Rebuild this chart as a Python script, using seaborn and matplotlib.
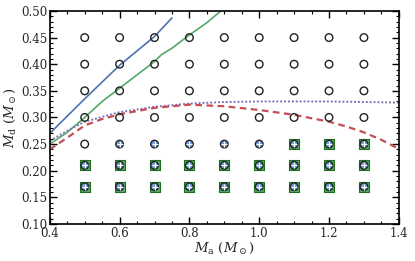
import numpy as np
import pandas as pd
import matplotlib
matplotlib.use("Agg")
import matplotlib.pyplot as plt
import seaborn as sns
from matplotlib.ticker import MultipleLocator

# Grid of simulated systems
grid_ma = [0.5, 0.6, 0.7, 0.8, 0.9, 1.0, 1.1, 1.2, 1.3]
grid_md = [0.17, 0.21, 0.25, 0.30, 0.35, 0.40, 0.45]
# blue-plus points and green-square points
plus_pts_ma = [0.6, 0.7, 0.8, 0.9, 1.0, 1.1, 1.2, 1.3] + grid_ma + grid_ma
plus_pts_md = [0.25] * 8 + [0.21] * 9 + [0.17] * 9
square_pts_ma = [1.1, 1.2, 1.3] + grid_ma + grid_ma
square_pts_md = [0.25] * 3 + [0.21] * 9 + [0.17] * 9

# Curves
blue_x = [0.40, 0.50, 0.60, 0.70, 0.75]
blue_y = [0.270, 0.335, 0.398, 0.452, 0.487]
green_x = [0.40, 0.45, 0.50, 0.55, 0.60, 0.65, 0.70, 0.72, 0.75, 0.78, 0.80, 0.85, 0.89]
green_y = [0.250, 0.272, 0.300, 0.330, 0.355, 0.380, 0.405, 0.418, 0.430, 0.445, 0.455, 0.478, 0.500]
red_x = [0.40, 0.45, 0.50, 0.55, 0.60, 0.70, 0.80, 0.90, 1.00, 1.10, 1.20, 1.25, 1.30, 1.35, 1.40]
red_y = [0.240, 0.262, 0.285, 0.297, 0.306, 0.318, 0.324, 0.321, 0.314, 0.305, 0.292, 0.283, 0.272, 0.258, 0.241]
purple_x = [0.40, 0.45, 0.50, 0.60, 0.70, 0.80, 0.90, 1.00, 1.20, 1.40]
purple_y = [0.256, 0.275, 0.292, 0.310, 0.320, 0.326, 0.329, 0.330, 0.330, 0.328]

sns.set_style("ticks")
plt.rcParams["font.family"] = ["DejaVu Serif"]
plt.rcParams["mathtext.fontset"] = "dejavuserif"

fig = plt.figure(figsize=(4.15, 2.61), dpi=100)
ax = fig.add_axes([0.12, 0.142, 0.841, 0.816])

pal = sns.color_palette("deep")
c_blue, c_green, c_red, c_purple = pal[0], pal[2], pal[3], pal[4]

sns.lineplot(x=blue_x, y=blue_y, ax=ax, color=c_blue, lw=1.2, sort=False)
sns.lineplot(x=green_x, y=green_y, ax=ax, color=c_green, lw=1.2, sort=False)
sns.lineplot(x=purple_x, y=purple_y, ax=ax, color=c_purple, lw=1.4, sort=False,
             linestyle=(0, (1, 1)))
sns.lineplot(x=red_x, y=red_y, ax=ax, color=c_red, lw=1.6, sort=False,
             linestyle=(0, (3, 2)))

gx, gy = np.meshgrid(grid_ma, grid_md)
sq = pd.DataFrame({"x": square_pts_ma, "y": square_pts_md})
sns.scatterplot(data=sq, x="x", y="y", ax=ax, marker="s", s=55,
                color=c_green, edgecolor="#1f6e1f", linewidth=0.8, zorder=3)
pl = pd.DataFrame({"x": plus_pts_ma, "y": plus_pts_md})
sns.scatterplot(data=pl, x="x", y="y", ax=ax, marker="o", s=26,
                color="#6f9bd6", edgecolor="none", zorder=4)
circ = pd.DataFrame({"x": gx.ravel(), "y": gy.ravel()})
sns.scatterplot(data=circ, x="x", y="y", ax=ax, marker="o", s=30,
                facecolor="none", edgecolor="#222222", linewidth=1.0, zorder=5)
sns.scatterplot(data=pl, x="x", y="y", ax=ax, marker="+", s=16,
                color="white", linewidth=0.8, zorder=6)

ax.set_xlim(0.4, 1.4)
ax.set_ylim(0.10, 0.50)
ax.xaxis.set_major_locator(MultipleLocator(0.2))
ax.xaxis.set_minor_locator(MultipleLocator(0.05))
ax.yaxis.set_minor_locator(MultipleLocator(0.01))
ax.set_xticks(np.round(np.arange(0.4, 1.401, 0.2), 1))
ax.set_xticklabels([f"{v:.1f}" for v in np.arange(0.4, 1.401, 0.2)])
ax.set_yticks(np.round(np.arange(0.10, 0.501, 0.05), 2))
ax.set_yticklabels([f"{v:.2f}" for v in np.arange(0.10, 0.501, 0.05)])
ax.tick_params(which="both", direction="in", top=True, right=True, labelsize=8.5,
               pad=2, color="black")
ax.tick_params(which="major", length=5, width=1.0)
ax.tick_params(which="minor", length=2.5, width=0.8)
for s in ax.spines.values():
    s.set_linewidth(1.2)
    s.set_color("black")
ax.set_xlabel(r"$M_\mathrm{a}$ ($M_\odot$)", fontsize=9.5, labelpad=1)
ax.set_ylabel(r"$M_\mathrm{d}$ ($M_\odot$)", fontsize=9.5, labelpad=2)

fig.savefig("out.png", dpi=100)
